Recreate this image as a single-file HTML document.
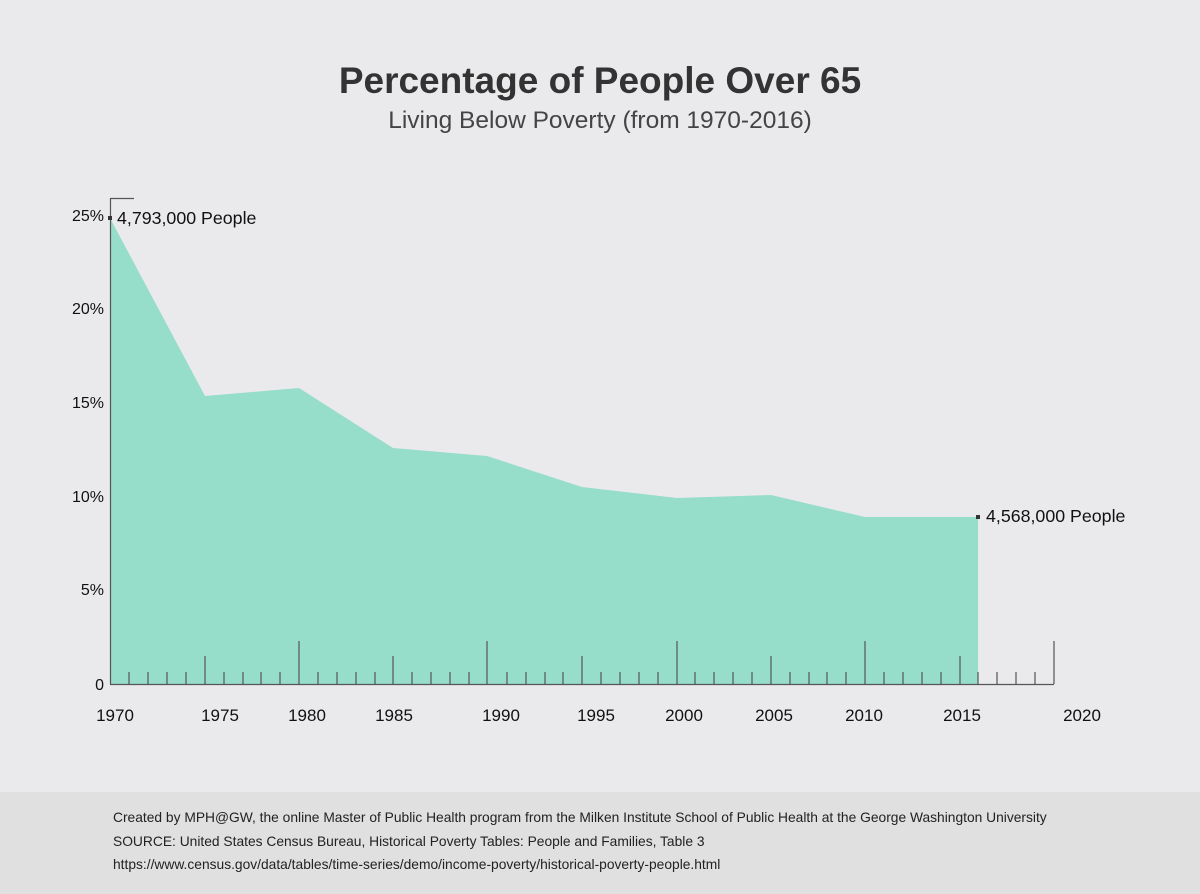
<!DOCTYPE html>
<html><head><meta charset="utf-8"><style>
body{margin:0;width:1200px;height:894px;background:#eaeaec;font-family:"Liberation Sans",sans-serif;overflow:hidden;position:relative}
.t{position:absolute;left:0;width:1200px;text-align:center;color:#333}
.foot{position:absolute;left:0;top:792px;width:1200px;height:102px;background:#e0e0e0}
.foot div{position:absolute;left:113px;font-size:13.8px;color:#222}
</style></head><body>
<div class="t" style="top:60px;font-size:37px;font-weight:bold;">Percentage of People Over 65</div>
<div class="t" style="top:107px;font-size:24.5px;color:#444">Living Below Poverty (from 1970-2016)</div>
<svg width="1200" height="894" style="position:absolute;left:0;top:0" font-family="Liberation Sans, sans-serif">
<polygon points="110,218 205,396 299,388 393,448 487,456 582,487 677,498 771,495 865,517 978,517 978,684 110,684" fill="#96ddca"/>
<g stroke="#555" stroke-width="1.2">
<line x1="110.5" y1="198" x2="110.5" y2="684"/>
<line x1="110" y1="198.5" x2="134" y2="198.5"/>
<line x1="110" y1="684.5" x2="1054" y2="684.5"/>
<line x1="129" y1="672" x2="129" y2="684"/><line x1="148" y1="672" x2="148" y2="684"/><line x1="167" y1="672" x2="167" y2="684"/><line x1="186" y1="672" x2="186" y2="684"/>
<line x1="205" y1="656" x2="205" y2="684"/>
<line x1="224" y1="672" x2="224" y2="684"/><line x1="243" y1="672" x2="243" y2="684"/><line x1="261" y1="672" x2="261" y2="684"/><line x1="280" y1="672" x2="280" y2="684"/>
<line x1="299" y1="641" x2="299" y2="684"/>
<line x1="318" y1="672" x2="318" y2="684"/><line x1="337" y1="672" x2="337" y2="684"/><line x1="356" y1="672" x2="356" y2="684"/><line x1="375" y1="672" x2="375" y2="684"/>
<line x1="393" y1="656" x2="393" y2="684"/>
<line x1="412" y1="672" x2="412" y2="684"/><line x1="431" y1="672" x2="431" y2="684"/><line x1="450" y1="672" x2="450" y2="684"/><line x1="469" y1="672" x2="469" y2="684"/>
<line x1="487" y1="641" x2="487" y2="684"/>
<line x1="507" y1="672" x2="507" y2="684"/><line x1="526" y1="672" x2="526" y2="684"/><line x1="545" y1="672" x2="545" y2="684"/><line x1="563" y1="672" x2="563" y2="684"/>
<line x1="582" y1="656" x2="582" y2="684"/>
<line x1="601" y1="672" x2="601" y2="684"/><line x1="620" y1="672" x2="620" y2="684"/><line x1="639" y1="672" x2="639" y2="684"/><line x1="658" y1="672" x2="658" y2="684"/>
<line x1="677" y1="641" x2="677" y2="684"/>
<line x1="695" y1="672" x2="695" y2="684"/><line x1="714" y1="672" x2="714" y2="684"/><line x1="733" y1="672" x2="733" y2="684"/><line x1="752" y1="672" x2="752" y2="684"/>
<line x1="771" y1="656" x2="771" y2="684"/>
<line x1="790" y1="672" x2="790" y2="684"/><line x1="809" y1="672" x2="809" y2="684"/><line x1="827" y1="672" x2="827" y2="684"/><line x1="846" y1="672" x2="846" y2="684"/>
<line x1="865" y1="641" x2="865" y2="684"/>
<line x1="884" y1="672" x2="884" y2="684"/><line x1="903" y1="672" x2="903" y2="684"/><line x1="922" y1="672" x2="922" y2="684"/><line x1="941" y1="672" x2="941" y2="684"/>
<line x1="960" y1="656" x2="960" y2="684"/>
<line x1="978" y1="672" x2="978" y2="684"/><line x1="997" y1="672" x2="997" y2="684"/><line x1="1016" y1="672" x2="1016" y2="684"/><line x1="1035" y1="672" x2="1035" y2="684"/>
<line x1="1054" y1="641" x2="1054" y2="684"/>
</g>
<rect x="108" y="216" width="4" height="4" fill="#333"/>
<rect x="976" y="515" width="4" height="4" fill="#333"/>
<g font-size="17.8" fill="#111">
<text x="117" y="224">4,793,000 People</text>
<text x="986" y="522">4,568,000 People</text>
</g>
<g font-size="16" fill="#111" text-anchor="end">
<text x="104" y="221">25%</text><text x="104" y="314">20%</text><text x="104" y="408">15%</text>
<text x="104" y="502">10%</text><text x="104" y="595">5%</text><text x="104" y="690">0</text>
</g>
<g font-size="17" fill="#111" text-anchor="middle">
<text x="115" y="721">1970</text><text x="220" y="721">1975</text><text x="307" y="721">1980</text>
<text x="394" y="721">1985</text><text x="501" y="721">1990</text><text x="596" y="721">1995</text>
<text x="684" y="721">2000</text><text x="774" y="721">2005</text><text x="864" y="721">2010</text>
<text x="962" y="721">2015</text><text x="1082" y="721">2020</text>
</g>
</svg>
<div class="foot">
<div style="top:18px">Created by MPH@GW, the online Master of Public Health program from the Milken Institute School of Public Health at the George Washington University</div>
<div style="top:42px">SOURCE: United States Census Bureau, Historical Poverty Tables: People and Families, Table 3</div>
<div style="top:65px">https://www.census.gov/data/tables/time-series/demo/income-poverty/historical-poverty-people.html</div>
</div>
</body></html>
